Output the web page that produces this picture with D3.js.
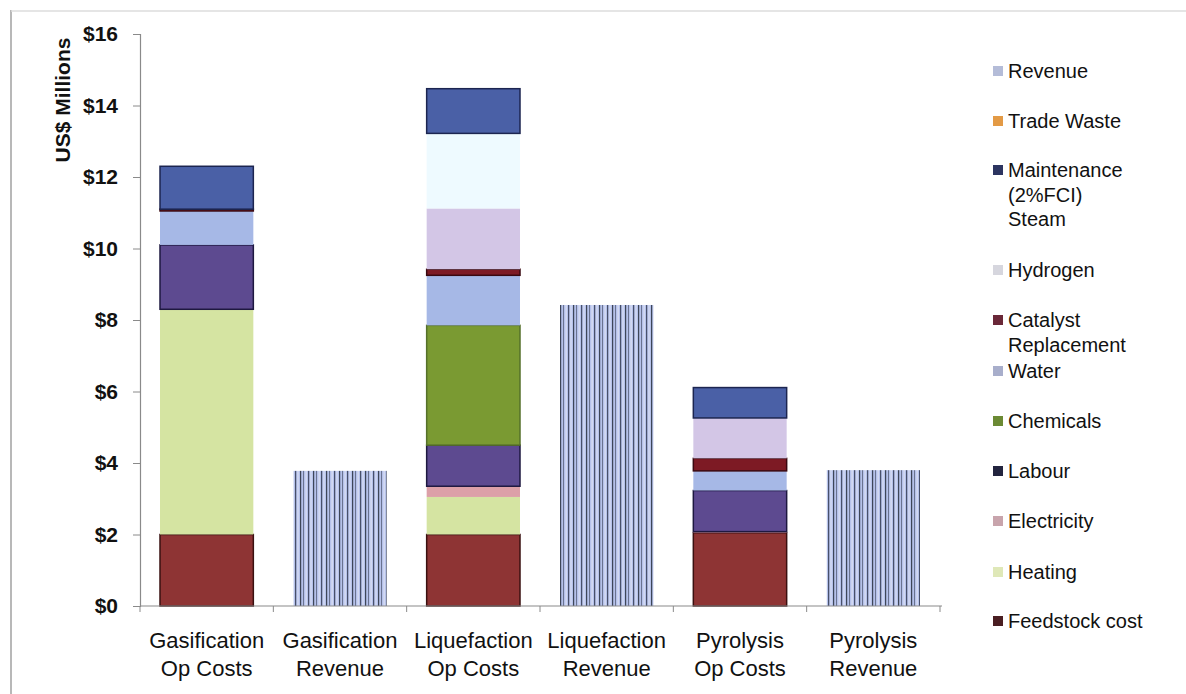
<!DOCTYPE html>
<html><head><meta charset="utf-8">
<script src="https://cdn.jsdelivr.net/npm/d3@7"></script>
<style>
html,body{margin:0;padding:0;background:#fff;}
svg{display:block;font-family:"Liberation Sans",Arial,sans-serif;}
</style></head>
<body><svg id="c" width="1186" height="694"></svg>
<script>
const categories = [["Gasification","Op Costs"],["Gasification","Revenue"],["Liquefaction","Op Costs"],["Liquefaction","Revenue"],["Pyrolysis","Op Costs"],["Pyrolysis","Revenue"]];
const yTicks = [0,2,4,6,8,10,12,14,16];
// stacking order bottom -> top
const seriesKeys = ["feedstock","heating","electricity","labour","chemicals","water","catalyst","hydrogen","steam","maintenance","tradeWaste","revenue"];
const feedstock   = [2.0, 0, 2.0, 0, 2.05, 0];
const heating     = [6.3, 0, 1.05, 0, 0, 0];
const electricity = [0, 0, 0.3, 0, 0.03, 0];
const labour      = [1.8, 0, 1.15, 0, 1.15, 0];
const chemicals   = [0, 0, 3.35, 0, 0, 0];
const water       = [0.95, 0, 1.4, 0, 0.55, 0];
const catalyst    = [0.05, 0, 0.17, 0, 0.35, 0];
const hydrogen    = [0, 0, 1.7, 0, 1.13, 0];
const steam       = [0, 0, 2.1, 0, 0, 0];
const maintenance = [1.2, 0, 1.25, 0, 0.85, 0];
const tradeWaste  = [0, 0, 0, 0, 0, 0];
const revenue     = [0, 3.78, 0, 8.42, 0, 3.8];
const legendLabels = [["Revenue"],["Trade Waste"],["Maintenance","(2%FCI)","Steam"],["Hydrogen"],["Catalyst","Replacement"],["Water"],["Chemicals"],["Labour"],["Electricity"],["Heating"],["Feedstock cost"]];
const legendKeys = ["revenue","tradeWaste","maintenance","hydrogen","catalyst","water","chemicals","labour","electricity","heating","feedstock"];

const seriesData = {feedstock,heating,electricity,labour,chemicals,water,catalyst,hydrogen,steam,maintenance,tradeWaste,revenue};
const fills = {feedstock:"#8e3434",heating:"#d5e4a2",electricity:"#dca0a8",labour:"#5d4a90",chemicals:"#7a9a32",
  water:"#a6b8e6",catalyst:"#7d1a24",hydrogen:"#d3c6e6",steam:"#eefaff",maintenance:"#4a60a6",tradeWaste:"#e39a45",revenue:"url(#rev)"};
const strokes = {feedstock:"#3a1010",labour:"#1e1840",maintenance:"#1c2550",catalyst:"#3a0810",chemicals:"#55702a"};
const legendFill = {revenue:"#b4bcd8",tradeWaste:"#e39a45",maintenance:"#2c3460",hydrogen:"#d6d6de",catalyst:"#6a2838",water:"#a8aecb",chemicals:"#6b8a34",labour:"#22243e",electricity:"#c8a4ac",heating:"#dfe8b8",feedstock:"#4a1e22"};

const svg = d3.select("#c");
const defs = svg.append("defs");
const pat = defs.append("pattern").attr("id","rev").attr("patternUnits","userSpaceOnUse").attr("width",13).attr("height",10);
pat.append("rect").attr("width",13).attr("height",10).attr("fill","#b5c1ea");
[[1,"#3e4658",1.2],[4,"#6a7390",1],[6.5,"#dfe4f6",1.2],[9,"#48506a",1.2],[11.5,"#e4e8f8",1]].forEach(([x,c,w])=>{
  pat.append("rect").attr("x",x).attr("y",0).attr("width",w).attr("height",10).attr("fill",c);
});

// frame
svg.append("line").attr("x1",11).attr("x2",11).attr("y1",10).attr("y2",694).attr("stroke","#b8b8b8").attr("stroke-width",2);
svg.append("line").attr("x1",11).attr("x2",1186).attr("y1",11).attr("y2",11).attr("stroke","#dcdcdc").attr("stroke-width",1.5);

const x = d3.scaleBand().domain(d3.range(categories.length)).range([140,940]).paddingInner(0.3).paddingOuter(0.15);
const y = d3.scaleLinear().domain([0,16]).range([606,34]);

const rows = categories.map((c,i)=>{const r={i}; seriesKeys.forEach(k=>r[k]=seriesData[k][i]); return r;});
const stacked = d3.stack().keys(seriesKeys)(rows);

const g = svg.append("g");
stacked.forEach(layer=>{
  const k = layer.key;
  g.append("g").selectAll("rect").data(layer.filter(d=>d[1]-d[0]>0)).join("rect")
    .attr("x",d=>x(d.data.i)).attr("width",x.bandwidth())
    .attr("y",d=>y(d[1])).attr("height",d=>y(d[0])-y(d[1]))
    .attr("fill",fills[k])
    .attr("stroke",strokes[k]||"none").attr("stroke-width",strokes[k]?1.5:0);
});

// y axis
const ya = svg.append("g").attr("transform","translate(140,0)")
  .call(d3.axisLeft(y).tickValues(yTicks).tickSize(7).tickPadding(15).tickFormat(d=>"$"+d));
ya.select(".domain").attr("stroke","#8a8a8a").attr("stroke-width",1.2);
ya.selectAll(".tick line").attr("stroke","#8a8a8a");
ya.selectAll(".tick text").attr("font-size",21).attr("font-weight","bold").attr("fill","#111").attr("x",-22);
ya.select(".domain").attr("d","M-7,34.5H0.5V606.5H-7");

// x axis
const xa = svg.append("g").attr("transform","translate(0,606)");
xa.append("line").attr("x1",140).attr("x2",942).attr("y1",0).attr("y2",0).attr("stroke","#8a8a8a").attr("stroke-width",1.2);
const bounds = d3.range(categories.length+1).map(i=>140 + i*x.step());
xa.selectAll("line.t").data(bounds).join("line").attr("class","t")
  .attr("x1",d=>d).attr("x2",d=>d).attr("y1",0).attr("y2",6).attr("stroke","#8a8a8a");
categories.forEach((c,i)=>{
  const t = xa.append("text").attr("x",x(i)+x.bandwidth()/2).attr("y",42).attr("text-anchor","middle")
    .attr("font-size",22).attr("fill","#111");
  c.forEach((s,j)=>t.append("tspan").attr("x",x(i)+x.bandwidth()/2).attr("dy",j?28:0).text(s));
});

// y label
svg.append("text").attr("transform","translate(70,100) rotate(-90)").attr("text-anchor","middle")
  .attr("font-size",21).attr("font-weight","bold").attr("fill","#111").text("US$ Millions");

// legend
const legY = [71,121,170,270,320,371,421,471,521,572,621];
legendKeys.forEach((k,i)=>{
  const lg = svg.append("g").attr("transform",`translate(993,${legY[i]})`);
  lg.append("rect").attr("x",0).attr("y",-5).attr("width",10).attr("height",10).attr("fill",legendFill[k]);
  const t = lg.append("text").attr("x",15).attr("y",7).attr("font-size",20).attr("fill","#111");
  legendLabels[i].forEach((s,j)=>t.append("tspan").attr("x",15).attr("dy",j?24.5:0).text(s));
});
</script></body></html>
